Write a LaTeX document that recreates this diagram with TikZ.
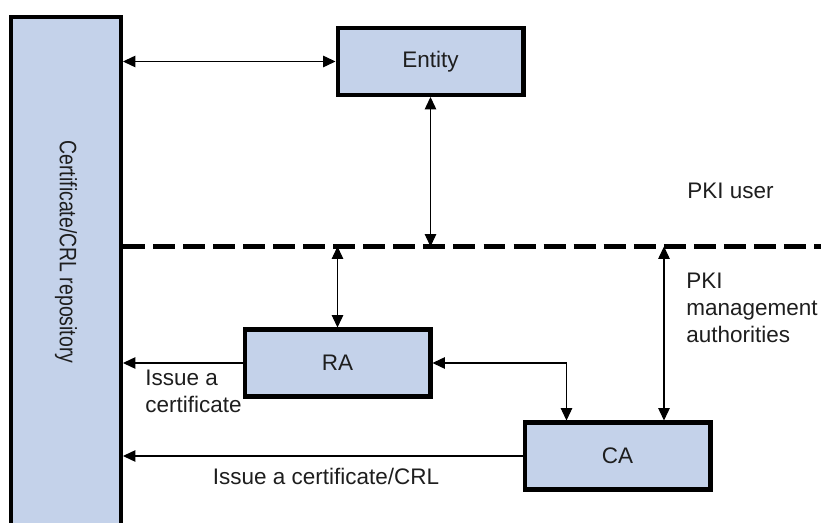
\documentclass[tikz,border=0pt]{standalone}
\usepackage{fontspec}
\setmainfont{Liberation Sans}
\usepackage{tikz}
\usetikzlibrary{arrows.meta}
\definecolor{boxfill}{RGB}{196,210,234}
\definecolor{txtgray}{RGB}{30,30,30}

\begin{document}
\begin{tikzpicture}[x=0.02cm,y=-0.02cm,
  font=\fontsize{12.8}{15.4}\selectfont,text=txtgray,
  box/.style={draw,line width=2.3pt,fill=boxfill,minimum width=3.72cm,minimum height=1.34cm,inner sep=0pt},
  link/.style={line width=0.6pt,-{Triangle[length=7pt,width=6.5pt]}},
  blink/.style={line width=0.6pt,{Triangle[length=7pt,width=6.5pt]}-{Triangle[length=7pt,width=6.5pt]}},
  txt/.style={inner sep=0pt,align=left}]
\useasboundingbox (0,0) rectangle (821,523);
\node [draw,line width=2.3pt,fill=boxfill,minimum width=2.2cm,minimum height=11cm,anchor=north,inner sep=0pt] (repo) at (66,15) {};
\node [rotate=-90,xscale=0.82,font=\fontsize{13.5}{16}\selectfont] (repolabel) at (66,252) {Certificate/CRL repository};
\node [box] (entity) at (430.5,61.5) {Entity};
\node [box] (ra) at (337.5,363) {RA};
\node [box] (ca) at (617.5,456) {CA};
\coordinate (sepL) at (123,246.5);
\coordinate (sepR) at (821,246.5);
\draw [line width=2.3pt,dash pattern=on 12.5pt off 4.6pt] (sepL) -- (sepR);
\draw [blink] (repo.east |- entity) -- (entity.west);
\draw [blink] (entity.south) -- (entity.south |- sepL);
\draw [blink] (ra.north |- sepL) -- (ra.north);
\draw [link] (ra.west) -- (ra.west -| repo.east);
\draw [link] (ca.west) -- (ca.west -| repo.east);
\draw [blink] (ra.east) -| ([xshift=0.88cm]ca.north west);
\draw [blink] ([xshift=0.93cm]ca.north |- sepL) -- ([xshift=0.93cm]ca.north);
\node [txt,anchor=north west] (issuera) at (145,370) {Issue a\\certificate};
\node [txt,anchor=base] (issueca) at (326,484) {Issue a certificate/CRL};
\node [txt,anchor=base west] (userlabel) at (687,199) {PKI user};
\node [txt,anchor=north west] (mgmtlabel) at (686,273) {PKI\\management\\authorities};
\end{tikzpicture}
\end{document}
